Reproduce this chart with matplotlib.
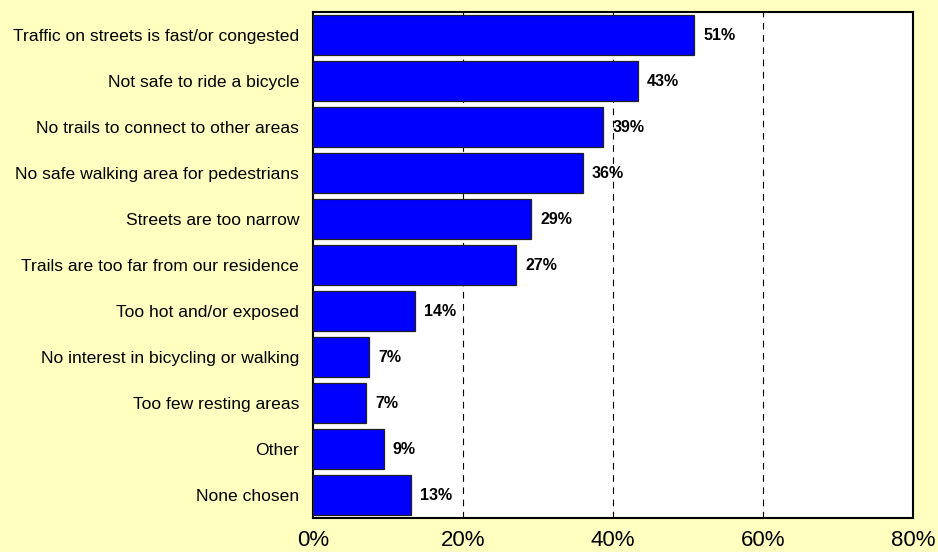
import matplotlib
matplotlib.use("Agg")
import matplotlib.pyplot as plt
from matplotlib.ticker import FuncFormatter

CATEGORIES = [
    "Traffic on streets is fast/or congested",
    "Not safe to ride a bicycle",
    "No trails to connect to other areas",
    "No safe walking area for pedestrians",
    "Streets are too narrow",
    "Trails are too far from our residence",
    "Too hot and/or exposed",
    "No interest in bicycling or walking",
    "Too few resting areas",
    "Other",
    "None chosen",
]
# bar lengths as drawn (percent)
VALUES = [50.8, 43.3, 38.7, 36.0, 29.1, 27.1, 13.6, 7.5, 7.1, 9.4, 13.1]
# value labels as printed
LABELS = ["51%", "43%", "39%", "36%", "29%", "27%", "14%", "7%", "7%", "9%", "13%"]
XTICKS = [0, 20, 40, 60, 80]

BG = "#FFFFC0"
plt.rcParams["font.family"] = ["Liberation Sans", "DejaVu Sans"]

fig = plt.figure(figsize=(9.38, 5.52), dpi=100, facecolor=BG)
ax = fig.add_axes([313 / 938, 1 - 518 / 552, 600 / 938, 506 / 552])
ax.set_facecolor("white")

ys = list(range(len(CATEGORIES)))
ax.barh(ys, VALUES, height=0.85, color="#0000FF", edgecolor="#202020",
        linewidth=0.9, zorder=3)
for y, v, lbl in zip(ys, VALUES, LABELS):
    ax.text(v + 1.2, y, lbl, va="center", ha="left", fontsize=11.5,
            fontweight="bold", color="black", zorder=4)

ax.set_xlim(0, 80)
ax.set_ylim(len(CATEGORIES) - 0.5, -0.5)
ax.set_xticks(XTICKS)
ax.xaxis.set_major_formatter(FuncFormatter(lambda x, _: f"{x:.0f}%"))
ax.set_yticks(ys)
ax.set_yticklabels(CATEGORIES, fontsize=12.6)
# reference clips these at the bottom edge; keep them just inside
ax.tick_params(axis="x", length=0, pad=9, labelsize=16)
ax.tick_params(axis="y", length=0, pad=10)
for x in XTICKS[1:-1]:
    ax.axvline(x, color="black", lw=0.8, ls=(0, (6, 5)), zorder=1)
for s in ax.spines.values():
    s.set_linewidth(1.5)
    s.set_color("black")

fig.savefig("out.png", dpi=100, facecolor=BG)
